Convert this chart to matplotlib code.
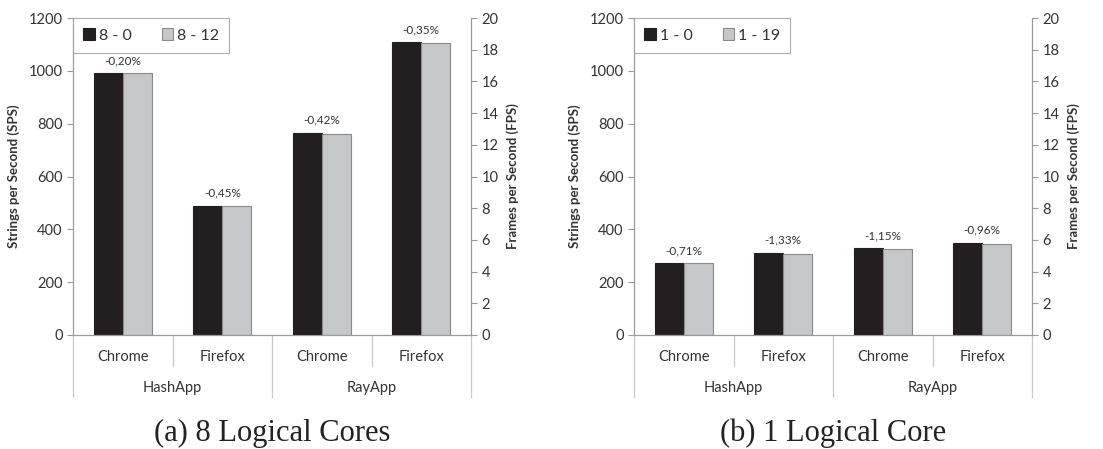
import matplotlib.pyplot as plt
import matplotlib.transforms as mtransforms

plt.rcParams['font.family'] = ['Lato', 'DejaVu Sans']

# categories
apps = ['HashApp', 'RayApp']
browsers = ['Chrome', 'Firefox']

# HashApp in strings per second (left axis), RayApp in frames per second (right axis)
hash_8_0 = [992, 490]
hash_8_12 = [990, 488]
ray_8_0 = [12.76, 18.46]
ray_8_12 = [12.70, 18.40]
pct_8 = ['-0,20%', '-0,45%', '-0,42%', '-0,35%']

hash_1_0 = [273, 311]
hash_1_19 = [271, 307]
ray_1_0 = [5.47, 5.82]
ray_1_19 = [5.40, 5.76]
pct_1 = ['-0,71%', '-1,33%', '-1,15%', '-0,96%']

panels = [
    ('(a) 8 Logical Cores', ['8 - 0', '8 - 12'], hash_8_0, hash_8_12, ray_8_0, ray_8_12, pct_8),
    ('(b) 1 Logical Core', ['1 - 0', '1 - 19'], hash_1_0, hash_1_19, ray_1_0, ray_1_19, pct_1),
]

dark = '#231f20'
light = '#c6c7c9'
edge = '#8a8a8a'
axis_col = '#9a9a9a'
sep_col = '#c8c8c8'
txt = '#333333'

fig = plt.figure(figsize=(11.03, 4.49), dpi=100)
lefts = [73 / 1103, 634 / 1103]
width = 398 / 1103
bottom = 114 / 449
height = 317 / 449

w = 0.29
for (title, names, h0, h1, r0, r1, pct), left in zip(panels, lefts):
    ax = fig.add_axes([left, bottom, width, height])
    ax2 = ax.twinx()
    ax.set_xlim(-0.5, 3.5)
    ax.set_ylim(0, 1200)
    ax2.set_ylim(0, 20)
    ax.set_yticks(range(0, 1201, 200))
    ax2.set_yticks(range(0, 21, 2))

    xh = [0, 1]
    xr = [2, 3]
    b0 = ax.bar([x - w / 2 for x in xh], h0, w, color=dark, edgecolor=dark, linewidth=0.8, label=names[0])
    b1 = ax.bar([x + w / 2 for x in xh], h1, w, color=light, edgecolor=edge, linewidth=0.8, label=names[1])
    ax2.bar([x - w / 2 for x in xr], r0, w, color=dark, edgecolor=dark, linewidth=0.8)
    ax2.bar([x + w / 2 for x in xr], r1, w, color=light, edgecolor=edge, linewidth=0.8)

    for i, x in enumerate(xh):
        ax.annotate(pct[i], (x, max(h0[i], h1[i])), xytext=(0, 5), textcoords='offset points',
                    ha='center', va='bottom', fontsize=8.5, color=txt)
    for i, x in enumerate(xr):
        ax2.annotate(pct[i + 2], (x, max(r0[i], r1[i])), xytext=(0, 5), textcoords='offset points',
                     ha='center', va='bottom', fontsize=8.5, color=txt)

    for a in (ax, ax2):
        a.spines['top'].set_visible(False)
        a.spines['bottom'].set_color(axis_col)
        a.spines['left'].set_color(axis_col)
        a.spines['right'].set_color(axis_col)
        a.tick_params(axis='y', colors=axis_col, labelcolor=txt, labelsize=10.5, length=4, width=0.8)
        a.set_xticks([])

    ax.set_ylabel('Strings per Second (SPS)', fontsize=9.5, fontweight='bold', color=txt, labelpad=6)
    ax2.set_ylabel('Frames per Second (FPS)', fontsize=9.5, fontweight='bold', color=txt, labelpad=6)

    # two-level category axis
    trans = mtransforms.blended_transform_factory(ax.transData, ax.transAxes)
    for x, depth in [(-0.5, -0.196), (0.5, -0.098), (1.5, -0.196), (2.5, -0.098), (3.5, -0.196)]:
        ax.plot([x, x], [0, depth], transform=trans, color=sep_col, lw=0.9, clip_on=False)
    for i, app in enumerate(apps):
        for j, br in enumerate(browsers):
            ax.text(i * 2 + j, -0.069, br, transform=trans, ha='center', va='center', fontsize=10.5, color=txt)
        ax.text(i * 2 + 0.5, -0.167, app, transform=trans, ha='center', va='center', fontsize=10.5, color=txt)

    leg = ax2.legend(handles=[b0, b1], loc='upper left', bbox_to_anchor=(0, 1), borderaxespad=0,
                     ncol=2, fancybox=False, edgecolor=axis_col, fontsize=11.5, handlelength=0.7,
                     handleheight=0.7, handletextpad=0.25, columnspacing=1.9, borderpad=0.65)
    leg.get_frame().set_linewidth(0.8)
    for t in leg.get_texts():
        t.set_color(txt)

    ax.text(0.5, -0.31, title, transform=ax.transAxes, ha='center', va='center',
            fontsize=22, family='Liberation Serif', color='#222222')

fig.savefig('out.png', dpi=100)
